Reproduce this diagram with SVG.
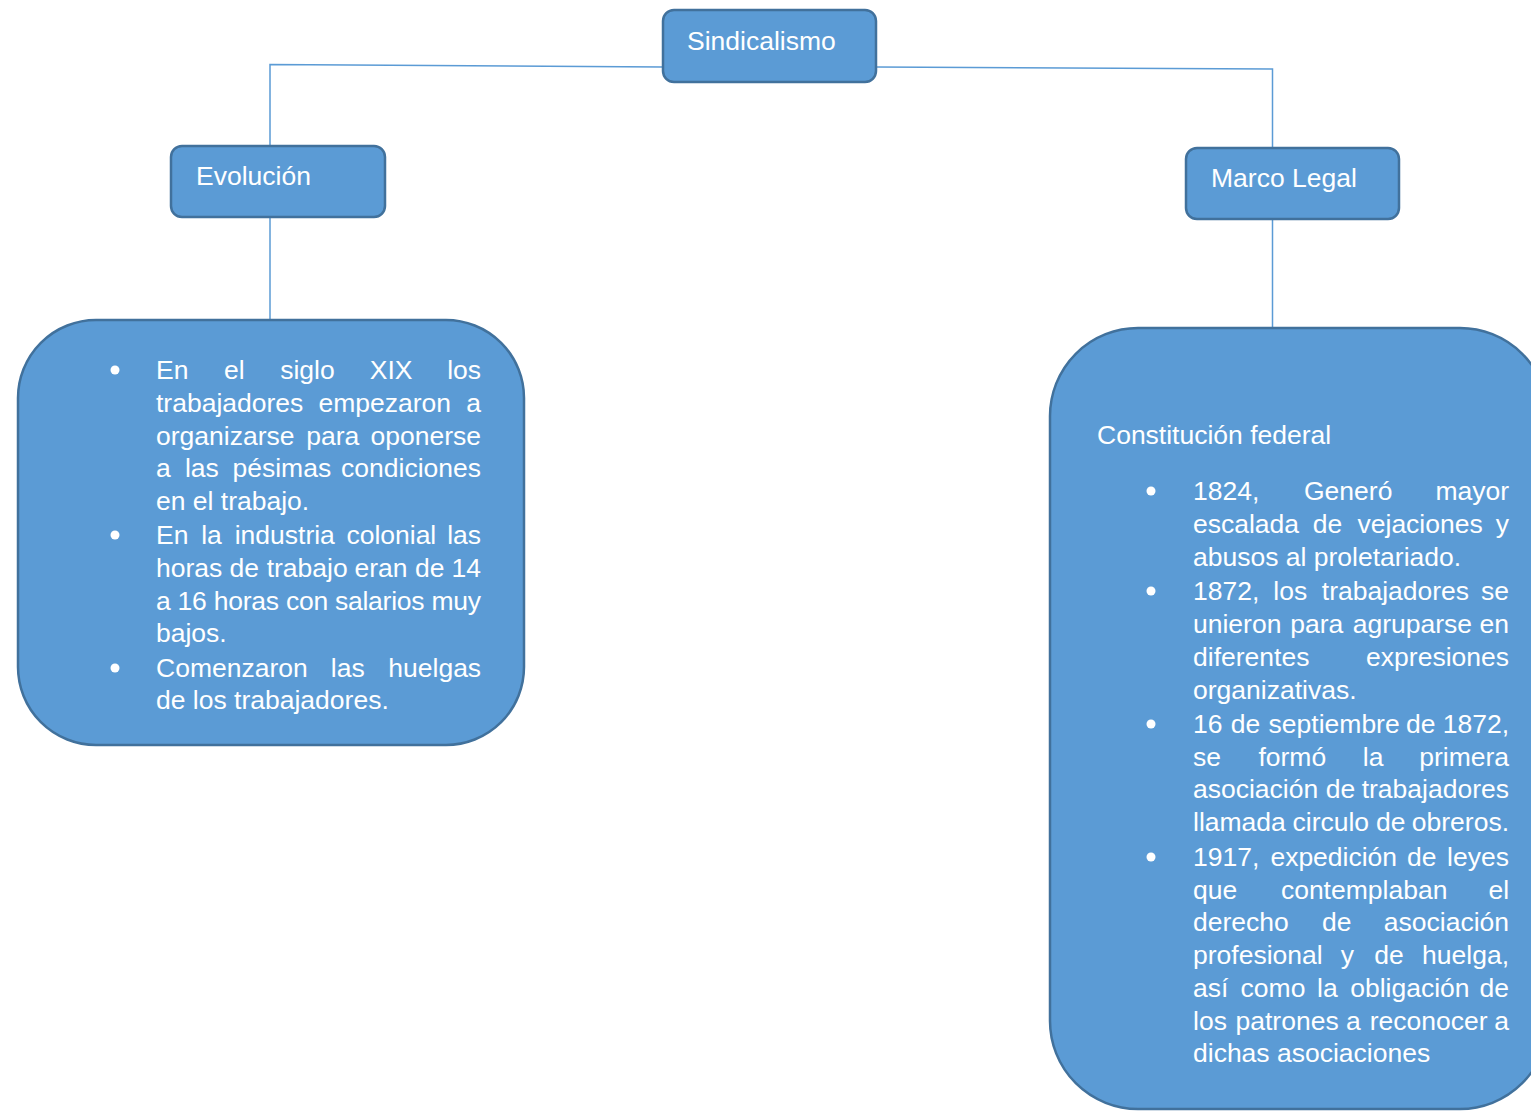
<svg xmlns="http://www.w3.org/2000/svg" width="1531" height="1111" viewBox="0 0 1531 1111">
<style>
.box{fill:#5B9BD5;stroke:#41719C;stroke-width:2.5}
.conn{fill:none;stroke:#5B9BD5;stroke-width:1.5}
.t{font-family:"Liberation Sans",Arial,sans-serif;font-size:26.5px;fill:#FFFFFF}
.bul{fill:#FFFFFF}
</style>
<rect width="1531" height="1111" fill="#FFFFFF"/>
<g id="connectors">
<polyline class="conn" points="663,67 270,64.5 270,146"/>
<polyline class="conn" points="876,67 1272.5,69 1272.5,148"/>
<line class="conn" x1="270" y1="217" x2="270" y2="320"/>
<line class="conn" x1="1272.5" y1="219" x2="1272.5" y2="328"/>
</g>
<g id="sindicalismo">
<rect class="box" x="663" y="10" width="213" height="72" rx="11"/>
<text class="t" x="687" y="50">Sindicalismo</text>
</g>
<g id="evolucion">
<rect class="box" x="171" y="146" width="214" height="71" rx="11"/>
<text class="t" x="196" y="185">Evolución</text>
</g>
<g id="marco-legal">
<rect class="box" x="1186" y="148" width="213" height="71" rx="11"/>
<text class="t" x="1211" y="187">Marco Legal</text>
</g>
<g id="evolucion-detalle">
<rect class="box" x="18" y="320" width="506" height="425" rx="78"/>
<circle class="bul" cx="115" cy="370" r="4.5"/>
<circle class="bul" cx="115" cy="535" r="4.5"/>
<circle class="bul" cx="115" cy="668" r="4.5"/>
<text class="t"><tspan x="156" y="379">En</tspan><tspan x="223.9" y="379">el</tspan><tspan x="280.2" y="379">siglo</tspan><tspan x="369.8" y="379">XIX</tspan><tspan x="447.2" y="379">los</tspan></text>
<text class="t"><tspan x="156" y="412">trabajadores</tspan><tspan x="318.5" y="412">empezaron</tspan><tspan x="466.2" y="412">a</tspan></text>
<text class="t"><tspan x="156" y="444.5">organizarse</tspan><tspan x="306.2" y="444.5">para</tspan><tspan x="370.5" y="444.5">oponerse</tspan></text>
<text class="t"><tspan x="156" y="477">a</tspan><tspan x="184.9" y="477">las</tspan><tspan x="232.5" y="477">pésimas</tspan><tspan x="341.1" y="477">condiciones</tspan></text>
<text class="t" x="156" y="509.5">en el trabajo.</text>
<text class="t"><tspan x="156" y="544">En</tspan><tspan x="201.2" y="544">la</tspan><tspan x="234.7" y="544">industria</tspan><tspan x="346.4" y="544">colonial</tspan><tspan x="447.2" y="544">las</tspan></text>
<text class="t"><tspan x="156" y="577">horas</tspan><tspan x="229.4" y="577">de</tspan><tspan x="266.7" y="577">trabajo</tspan><tspan x="354.5" y="577">eran</tspan><tspan x="414.9" y="577">de</tspan><tspan x="451.5" y="577">14</tspan></text>
<text class="t" x="156" y="609.5" textLength="325" lengthAdjust="spacing">a 16 horas con salarios muy</text>
<text class="t" x="156" y="642">bajos.</text>
<text class="t"><tspan x="156" y="677">Comenzaron</tspan><tspan x="330.8" y="677">las</tspan><tspan x="388.3" y="677">huelgas</tspan></text>
<text class="t" x="156" y="709">de los trabajadores.</text>
</g>
<g id="marco-legal-detalle">
<rect class="box" x="1050" y="328" width="498" height="781" rx="88"/>
<text class="t" x="1097" y="444">Constitución federal</text>
<circle class="bul" cx="1151" cy="491" r="4.5"/>
<circle class="bul" cx="1151" cy="591" r="4.5"/>
<circle class="bul" cx="1151" cy="724" r="4.5"/>
<circle class="bul" cx="1151" cy="857" r="4.5"/>
<text class="t"><tspan x="1193" y="500">1824,</tspan><tspan x="1304" y="500">Generó</tspan><tspan x="1435.4" y="500">mayor</tspan></text>
<text class="t"><tspan x="1193" y="533">escalada</tspan><tspan x="1312.8" y="533">de</tspan><tspan x="1357.5" y="533">vejaciones</tspan><tspan x="1495.7" y="533">y</tspan></text>
<text class="t" x="1193" y="566">abusos al proletariado.</text>
<text class="t"><tspan x="1193" y="600">1872,</tspan><tspan x="1273.3" y="600">los</tspan><tspan x="1321.8" y="600">trabajadores</tspan><tspan x="1481" y="600">se</tspan></text>
<text class="t"><tspan x="1193" y="633">unieron</tspan><tspan x="1290.2" y="633">para</tspan><tspan x="1352.7" y="633">agruparse</tspan><tspan x="1479.5" y="633">en</tspan></text>
<text class="t"><tspan x="1193" y="666">diferentes</tspan><tspan x="1366.1" y="666">expresiones</tspan></text>
<text class="t" x="1193" y="699">organizativas.</text>
<text class="t"><tspan x="1193" y="733">16</tspan><tspan x="1230.8" y="733">de</tspan><tspan x="1268.6" y="733">septiembre</tspan><tspan x="1406.1" y="733">de</tspan><tspan x="1442.8" y="733">1872,</tspan></text>
<text class="t"><tspan x="1193" y="765.5">se</tspan><tspan x="1258.4" y="765.5">formó</tspan><tspan x="1362.8" y="765.5">la</tspan><tspan x="1419.2" y="765.5">primera</tspan></text>
<text class="t"><tspan x="1193" y="798">asociación</tspan><tspan x="1325.7" y="798">de</tspan><tspan x="1361.7" y="798">trabajadores</tspan></text>
<text class="t"><tspan x="1193" y="830.5">llamada</tspan><tspan x="1292.5" y="830.5">circulo</tspan><tspan x="1376.1" y="830.5">de</tspan><tspan x="1411.8" y="830.5">obreros.</tspan></text>
<text class="t"><tspan x="1193" y="866">1917,</tspan><tspan x="1270.4" y="866">expedición</tspan><tspan x="1407.1" y="866">de</tspan><tspan x="1447.1" y="866">leyes</tspan></text>
<text class="t"><tspan x="1193" y="898.5">que</tspan><tspan x="1280.9" y="898.5">contemplaban</tspan><tspan x="1488.4" y="898.5">el</tspan></text>
<text class="t"><tspan x="1193" y="931">derecho</tspan><tspan x="1322.1" y="931">de</tspan><tspan x="1383.8" y="931">asociación</tspan></text>
<text class="t"><tspan x="1193" y="964">profesional</tspan><tspan x="1340.7" y="964">y</tspan><tspan x="1374.2" y="964">de</tspan><tspan x="1422.1" y="964">huelga,</tspan></text>
<text class="t"><tspan x="1193" y="996.5">así</tspan><tspan x="1240.6" y="996.5">como</tspan><tspan x="1317.1" y="996.5">la</tspan><tspan x="1350.2" y="996.5">obligación</tspan><tspan x="1479.5" y="996.5">de</tspan></text>
<text class="t"><tspan x="1193" y="1029.5">los</tspan><tspan x="1235.5" y="1029.5">patrones</tspan><tspan x="1345.9" y="1029.5">a</tspan><tspan x="1369.7" y="1029.5">reconocer</tspan><tspan x="1494.2" y="1029.5">a</tspan></text>
<text class="t" x="1193" y="1062">dichas asociaciones</text>
</g>
</svg>
